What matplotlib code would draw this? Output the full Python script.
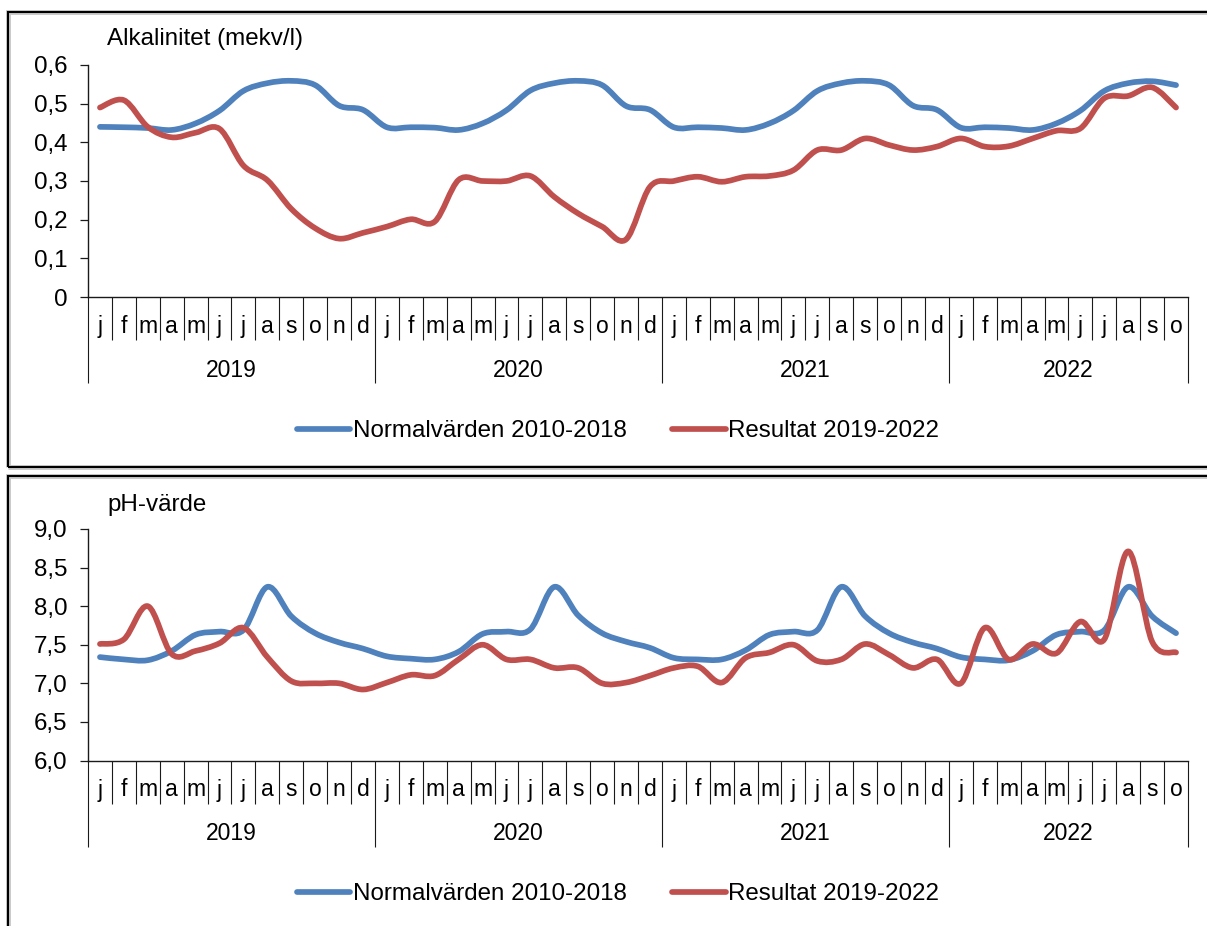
import matplotlib
matplotlib.use("Agg")
import matplotlib.pyplot as plt
from matplotlib.path import Path
from matplotlib.patches import PathPatch, Rectangle
from matplotlib.lines import Line2D
from matplotlib.ticker import FixedLocator, FuncFormatter

plt.rcParams['font.family'] = ['Liberation Sans', 'DejaVu Sans']

# ---- data -------------------------------------------------------------
month_labels = ['j', 'f', 'm', 'a', 'm', 'j', 'j', 'a', 's', 'o', 'n', 'd']
year_labels = ['2019', '2020', '2021', '2022']
months_per_year = [12, 12, 12, 10]

alk_normal = [
    0.440, 0.439, 0.437, 0.432, 0.449, 0.482, 0.533, 0.553, 0.559, 0.548, 0.495, 0.484,
    0.439, 0.439, 0.438, 0.432, 0.449, 0.483, 0.534, 0.553, 0.559, 0.548, 0.494, 0.484,
    0.439, 0.439, 0.437, 0.432, 0.449, 0.482, 0.533, 0.553, 0.559, 0.548, 0.495, 0.484,
    0.438, 0.439, 0.437, 0.432, 0.449, 0.482, 0.533, 0.553, 0.558, 0.548,
]
alk_result = [
    0.490, 0.509, 0.440, 0.413, 0.425, 0.435, 0.340, 0.302, 0.228, 0.178, 0.151, 0.166,
    0.182, 0.201, 0.195, 0.303, 0.300, 0.300, 0.313, 0.259, 0.216, 0.182, 0.149, 0.285,
    0.300, 0.311, 0.298, 0.311, 0.313, 0.328, 0.380, 0.380, 0.410, 0.393, 0.380, 0.389,
    0.410, 0.389, 0.390, 0.410, 0.430, 0.436, 0.514, 0.520, 0.542, 0.490,
]
ph_normal = [
    7.34, 7.31, 7.30, 7.42, 7.63, 7.67, 7.69, 8.25, 7.87, 7.65, 7.53, 7.45,
    7.35, 7.32, 7.31, 7.41, 7.64, 7.67, 7.70, 8.25, 7.88, 7.65, 7.54, 7.46,
    7.33, 7.31, 7.31, 7.43, 7.63, 7.67, 7.69, 8.25, 7.87, 7.65, 7.53, 7.45,
    7.34, 7.31, 7.30, 7.42, 7.63, 7.67, 7.69, 8.25, 7.87, 7.65,
]
ph_result = [
    7.51, 7.57, 8.00, 7.38, 7.42, 7.52, 7.72, 7.34, 7.03, 7.00, 7.00, 6.92,
    7.01, 7.11, 7.10, 7.31, 7.50, 7.31, 7.31, 7.20, 7.20, 7.00, 7.01, 7.10,
    7.20, 7.22, 7.01, 7.33, 7.40, 7.50, 7.29, 7.31, 7.51, 7.37, 7.20, 7.31,
    7.00, 7.72, 7.31, 7.51, 7.39, 7.80, 7.57, 8.71, 7.54, 7.40,
]

series_names = ['Normalvärden 2010-2018', 'Resultat 2019-2022']
colors = ['#4F81BD', '#C0504D']

# ---- helpers ------------------------------------------------------------
W, H = 1207, 926
FS_CAT = 16.5      # month / year labels
FS_TXT = 17.4      # tick labels, titles, legend
LW = 4.1


def smooth_path(xs, ys):
    """Smoothed line through the points (cubic Bezier segments)."""
    n = len(xs)
    verts = [(xs[0], ys[0])]
    codes = [Path.MOVETO]
    for i in range(n - 1):
        x0, y0 = xs[max(i - 1, 0)], ys[max(i - 1, 0)]
        x1, y1 = xs[i], ys[i]
        x2, y2 = xs[i + 1], ys[i + 1]
        x3, y3 = xs[min(i + 2, n - 1)], ys[min(i + 2, n - 1)]
        c1 = (x1 + (x2 - x0) / 6.0, y1 + (y2 - y0) / 6.0)
        c2 = (x2 - (x3 - x1) / 6.0, y2 - (y3 - y1) / 6.0)
        verts += [c1, c2, (x2, y2)]
        codes += [Path.CURVE4, Path.CURVE4, Path.CURVE4]
    return Path(verts, codes)


def category_axis(ax, height_px):
    n = sum(months_per_year)
    ax.set_xlim(0, n)
    ax.set_xticks([])
    tr = ax.get_xaxis_transform()
    month_len = 43.0 / height_px
    year_len = 86.0 / height_px
    bounds = [0]
    for m in months_per_year:
        bounds.append(bounds[-1] + m)
    month_seps = [k for k in range(1, n) if k not in bounds]
    ax.vlines(month_seps, -month_len, 0, transform=tr, colors='#1a1a1a',
              lw=0.8, clip_on=False)
    ax.vlines(bounds, -year_len, 0, transform=tr, colors='#1a1a1a',
              lw=0.8, clip_on=False)
    k = 0
    for yl, m in zip(year_labels, months_per_year):
        for j in range(m):
            ax.text(k + j + 0.5, -36.0 / height_px, month_labels[j],
                    transform=tr, ha='center', va='baseline', fontsize=FS_CAT)
        ax.text(k + m / 2.0, -80.0 / height_px, yl, transform=tr,
                ha='center', va='baseline', fontsize=FS_CAT)
        k += m


def style_axes(ax):
    for s in ['top', 'right']:
        ax.spines[s].set_visible(False)
    for s in ['left', 'bottom']:
        ax.spines[s].set_color('#1a1a1a')
        ax.spines[s].set_linewidth(1.0)
    ax.tick_params(axis='y', direction='out', length=5.5, width=0.9,
                   color='#1a1a1a', pad=9.5, labelsize=FS_TXT)
    ax.patch.set_alpha(0)


def draw_series(ax, values_list):
    xs = [i + 0.5 for i in range(len(values_list[0]))]
    for vals, c in zip(values_list, colors):
        p = PathPatch(smooth_path(xs, vals), fill=False, edgecolor=c, lw=LW,
                      capstyle='round', joinstyle='round', zorder=3)
        ax.add_patch(p)


fig = plt.figure(figsize=(W / 100, H / 100), dpi=100)

# panel frames
for top_px, bot_px in [(12, 467), (476, 940)]:
    fig.patches.append(Rectangle((8 / W, 1 - bot_px / H), 1.2,
                                 (bot_px - top_px) / H, transform=fig.transFigure,
                                 fill=False, edgecolor='#c8c8c8', lw=3.5, zorder=0))
    fig.patches.append(Rectangle((8 / W, 1 - bot_px / H), 1.2,
                                 (bot_px - top_px) / H, transform=fig.transFigure,
                                 fill=False, edgecolor='black', lw=1.5, zorder=1))

# ---- alkalinity panel ----------------------------------------------------
ax1 = fig.add_axes([88 / W, 1 - 297 / H, 1100 / W, 232 / H])
style_axes(ax1)
ax1.set_ylim(0, 0.6)
ax1.yaxis.set_major_locator(FixedLocator([0, 0.1, 0.2, 0.3, 0.4, 0.5, 0.6]))
ax1.yaxis.set_major_formatter(FuncFormatter(
    lambda v, p: '0' if abs(v) < 1e-9 else f'{v:.1f}'.replace('.', ',')))
draw_series(ax1, [alk_normal, alk_result])
category_axis(ax1, 232.0)
fig.text(107 / W, 1 - 45 / H, 'Alkalinitet (mekv/l)', fontsize=FS_TXT,
         ha='left', va='baseline')

# ---- pH panel --------------------------------------------------------------
ax2 = fig.add_axes([88 / W, 1 - 760.5 / H, 1100 / W, 231.5 / H])
style_axes(ax2)
ax2.set_ylim(6.0, 9.0)
ax2.yaxis.set_major_locator(FixedLocator([6.0, 6.5, 7.0, 7.5, 8.0, 8.5, 9.0]))
ax2.yaxis.set_major_formatter(FuncFormatter(
    lambda v, p: f'{v:.1f}'.replace('.', ',')))
draw_series(ax2, [ph_normal, ph_result])
category_axis(ax2, 231.5)
fig.text(107 / W, 1 - 511 / H, 'pH-värde', fontsize=FS_TXT,
         ha='left', va='baseline')

# ---- legends -------------------------------------------------------------
handles = [Line2D([], [], color=c, lw=LW, solid_capstyle='round') for c in colors]
for yc in [431, 894]:
    fig.legend(handles, series_names, loc='center',
               bbox_to_anchor=(618 / W, 1 - yc / H), ncol=2, frameon=False,
               fontsize=FS_TXT, handlelength=2.2, handletextpad=0.1,
               columnspacing=1.9, borderpad=0, borderaxespad=0)

fig.savefig('out.png', dpi=100)
